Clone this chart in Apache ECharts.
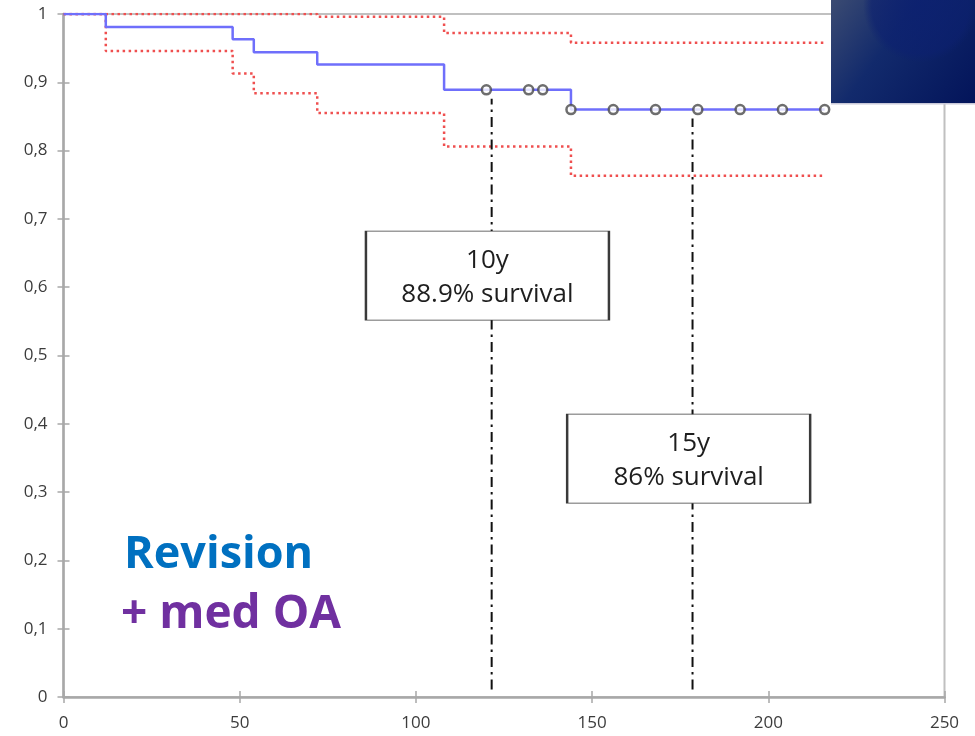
<!DOCTYPE html>
<html>
<head>
<meta charset="utf-8">
<script src="https://cdn.jsdelivr.net/npm/echarts@6/dist/echarts.min.js"></script>
<style>
  html, body { margin: 0; padding: 0; background: #fff; }
  #chart { width: 975px; height: 736px; }
</style>
</head>
<body>
<div id="chart"></div>
<script>
// Kaplan-Meier survival (months) with 95% confidence band
const survTime   = [0, 12, 48, 54, 72, 108, 144, 216];
const survival   = [1, 0.981, 0.963, 0.944, 0.926, 0.889, 0.860, 0.860];
const upperTime  = [0, 72, 108, 144, 216];
const upperCI    = [1, 0.996, 0.972, 0.958, 0.958];
const lowerTime  = [0, 12, 48, 54, 72, 108, 144, 216];
const lowerCI    = [1, 0.946, 0.913, 0.884, 0.855, 0.806, 0.763, 0.763];
// censored observations
const censorTime = [120, 132, 136, 144, 156, 168, 180, 192, 204, 216];
const censorSurv = [0.889, 0.889, 0.889, 0.860, 0.860, 0.860, 0.860, 0.860, 0.860, 0.860];
// milestone markers
const refTime    = [121.5, 178.5];
const refSurv    = [0.889, 0.860];
const refYears   = ['10y', '15y'];
const refText    = ['88.9% survival', '86% survival'];
// axes
const xMin = 0, xMax = 250, xStep = 50;
const yMin = 0, yMax = 1, yStep = 0.1;

const zip = (a, b) => a.map((v, i) => [v, b[i]]);

const chart = echarts.init(document.getElementById('chart'), null, { renderer: 'canvas' });

const axisGray = '#a8a8a8';
const labelFont = { fontFamily: 'Open Sans', fontSize: 17, color: '#3c3c3c' };

function xAxisDef(outer) {
  return {
    type: 'value', min: xMin, max: xMax, interval: xStep, position: 'bottom',
    gridIndex: 0,
    axisLine: { show: outer, lineStyle: { color: axisGray, width: 2.5 } },
    axisTick: { show: true, inside: !outer, length: 6, lineStyle: { color: axisGray, width: 1.5 } },
    axisLabel: outer ? Object.assign({ margin: 18 }, labelFont) : { show: false },
    splitLine: { show: false }
  };
}
function yAxisDef(outer) {
  return {
    type: 'value', min: yMin, max: yMax, interval: yStep, position: 'left',
    gridIndex: 0,
    axisLine: { show: outer, lineStyle: { color: axisGray, width: 2.5 } },
    axisTick: { show: true, inside: !outer, length: 6, lineStyle: { color: axisGray, width: 1.5 } },
    axisLabel: outer ? Object.assign({
      margin: 16,
      formatter: v => String(Math.round(v * 10) / 10).replace('.', ',')
    }, labelFont) : { show: false },
    splitLine: { show: false }
  };
}

const ciStyle = { color: '#ef4f4f', width: 2.5, type: [2.5, 3.5] };
const dashDot = { color: '#111', width: 2, type: [10, 5, 2.5, 5] };

const option = {
  animation: false,
  grid: {
    left: 63.5, right: 30.5, top: 14, bottom: 39,
    show: true, borderColor: '#c0c0c0', borderWidth: 2, backgroundColor: 'transparent'
  },
  xAxis: [xAxisDef(true), xAxisDef(false)],
  yAxis: [yAxisDef(true), yAxisDef(false)],
  series: [
    {
      name: 'upper', type: 'line', step: 'end', data: zip(upperTime, upperCI),
      showSymbol: false, lineStyle: ciStyle, z: 2
    },
    {
      name: 'lower', type: 'line', step: 'end', data: zip(lowerTime, lowerCI),
      showSymbol: false, lineStyle: ciStyle, z: 2
    },
    {
      name: 'survival', type: 'line', step: 'end', data: zip(survTime, survival),
      showSymbol: false, lineStyle: { color: '#6f6ffb', width: 2.5 }, z: 3
    },
    {
      name: 'censored', type: 'scatter', data: zip(censorTime, censorSurv),
      symbol: 'circle', symbolSize: 9,
      itemStyle: { color: '#ffffff', borderColor: '#4a4a4a', borderWidth: 2.5 }, z: 5
    },
    ...refTime.map((t, i) => ({
      name: 'ref' + i, type: 'line', data: [[t, 0.011], [t, refSurv[i] - 0.013]],
      showSymbol: false, lineStyle: dashDot, z: 4
    })),
    {
      name: 'boxes', type: 'scatter', data: [], z: 10,
      markPoint: {
        symbol: 'rect',
        symbolSize: [243, 89],
        itemStyle: { color: '#ffffff', borderColor: '#3a3a3a', borderWidth: 1.5 },
        label: {
          show: true, position: 'inside',
          fontFamily: 'Open Sans', fontSize: 26, color: '#1e1e1e',
          lineHeight: 34, align: 'center', offset: [0, 2]
        },
        data: [
          { coord: [120.3, 0.617], value: refYears[0] + '\n' + refText[0] },
          { coord: [177.4, 0.349], value: refYears[1] + '\n' + refText[1] }
        ].map(d => Object.assign(d, { label: { formatter: d.value } }))
      }
    }
  ],
  graphic: [
    {
      type: 'rect', left: 831, top: 0,
      shape: { width: 144, height: 104 },
      style: {
        fill: new echarts.graphic.LinearGradient(0, 0, 1, 1, [
          { offset: 0, color: '#3b4b72' },
          { offset: 0.4, color: '#122a6c' },
          { offset: 1, color: '#03145a' }
        ])
      }
    },
    {
      type: 'rect', left: 831, top: 0,
      shape: { width: 144, height: 104 },
      style: {
        fill: new echarts.graphic.RadialGradient(0.62, 0.05, 0.55, [
          { offset: 0, color: 'rgba(12,32,112,0.85)' },
          { offset: 0.85, color: 'rgba(12,32,112,0.6)' },
          { offset: 1, color: 'rgba(12,32,112,0)' }
        ])
      }
    },
    {
      type: 'rect', left: 831, top: 103,
      shape: { width: 144, height: 1.5 },
      style: { fill: '#c8c8d8' }
    },
    {
      type: 'text', left: 124, top: 533,
      style: {
        text: 'Revision', fontFamily: 'Open Sans', fontWeight: 'bold', fontSize: 45,
        fill: '#0070c0'
      }
    },
    {
      type: 'text', left: 121, top: 592,
      style: {
        text: '+ med OA', fontFamily: 'Open Sans', fontWeight: 'bold', fontSize: 46,
        fill: '#7030a0'
      }
    }
  ]
};

chart.setOption(option);
</script>
</body>
</html>
